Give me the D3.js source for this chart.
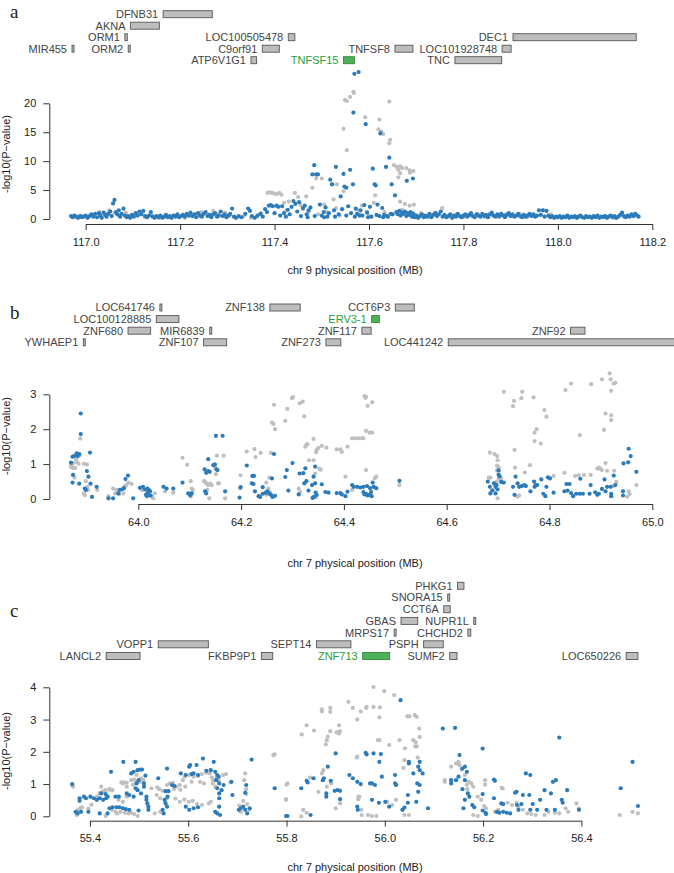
<!DOCTYPE html>
<html><head><meta charset="utf-8">
<script src="https://cdn.jsdelivr.net/npm/d3@7"></script>
<style>
body{margin:0;background:#fff}
svg{display:block}
text{font-family:"Liberation Sans",Arial,Helvetica,sans-serif}
</style>
</head><body>
<svg id="chart" width="674" height="873"></svg>
<script>
// ---------------- DATA ----------------
const aXTicks = [117.0,117.2,117.4,117.6,117.8,118.0,118.2];
const aYTicks = [0,5,10,15,20];
const bXTicks = [64.0,64.2,64.4,64.6,64.8,65.0];
const bYTicks = [0,1,2,3];
const cXTicks = [55.4,55.6,55.8,56.0,56.2,56.4];
const cYTicks = [0,1,2,3,4];

// genes: [name, startMB, endMB, track, highlighted]
const aGenes = [
 ["MIR455",116.971,116.972,1],["ORM2",117.090,117.094,1],["ORM1",117.083,117.088,2],
 ["AKNA",117.095,117.156,3],["DFNB31",117.164,117.268,4],["ATP6V1G1",117.350,117.362,0],
 ["C9orf91",117.374,117.410,1],["LOC100505478",117.429,117.443,2],["TNFSF15",117.546,117.569,0,true],
 ["TNFSF8",117.655,117.693,1],["TNC",117.782,117.881,0],["LOC101928748",117.882,117.901,1],
 ["DEC1",117.905,118.166,2]
];
const bGenes = [
 ["YWHAEP1",63.893,63.895,0],["ZNF107",64.127,64.172,0],["ZNF273",64.365,64.394,0],["LOC441242",64.603,65.10,0],
 ["ZNF680",63.980,64.024,1],["MIR6839",64.139,64.141,1],["ZNF117",64.435,64.453,1],["ZNF92",64.841,64.869,1],
 ["LOC100128885",64.035,64.079,2],["ERV3-1",64.454,64.469,2,true],
 ["LOC641746",64.042,64.044,3],["ZNF138",64.256,64.315,3],["CCT6P3",64.500,64.537,3]
];
const cGenes = [
 ["LANCL2",55.433,55.502,0],["FKBP9P1",55.749,55.772,0],["ZNF713",55.955,56.010,0,true],["SUMF2",56.132,56.147,0],["LOC650226",56.491,56.515,0],
 ["VOPP1",55.539,55.641,1],["SEPT14",55.861,55.931,1],["PSPH",56.079,56.119,1],
 ["MRPS17",56.019,56.023,2],["CHCHD2",56.169,56.175,2],
 ["GBAS",56.033,56.067,3],["NUPR1L",56.181,56.183,3],
 ["CCT6A",56.120,56.133,4],["SNORA15",56.128,56.130,5],["PHKG1",56.148,56.161,6]
];

// points: [positionMB, -log10(P)]
const aGray = [
 [116.975,0.3],[116.99,0.6],[117.005,0.4],[117.018,0.7],[117.03,1.2],[117.045,0.8],[117.05,1.5],[117.062,1.0],[117.07,0.6],[117.085,1.1],
 [117.1,0.5],[117.112,0.9],[117.125,0.3],[117.14,0.6],[117.155,0.2],[117.168,0.4],[117.18,0.3],[117.195,0.5],[117.21,0.2],[117.22,0.6],
 [117.235,0.9],[117.245,1.2],[117.26,0.7],[117.27,1.4],[117.282,0.9],[117.295,1.1],[117.305,0.6],[117.32,0.3],[117.335,0.5],[117.35,0.2],
 [117.362,0.4],[117.372,1.0],[117.385,4.5],[117.39,4.6],[117.395,4.5],[117.4,4.4],[117.405,4.3],[117.41,4.5],[117.415,4.2],[117.42,2.8],
 [117.425,1.5],[117.43,3.0],[117.443,4.5],[117.45,3.8],[117.455,2.4],[117.46,1.7],[117.467,3.9],[117.472,1.2],[117.48,5.4],[117.488,7.0],
 [117.492,0.8],[117.5,7.0],[117.505,2.5],[117.51,1.2],[117.521,6.0],[117.525,3.4],[117.53,1.9],[117.532,6.0],[117.538,0.6],[117.546,4.8],
 [117.546,15.6],[117.549,20.6],[117.553,20.4],[117.553,11.9],[117.56,21.1],[117.567,22.0],[117.568,21.8],[117.575,1.6],[117.58,0.7],[117.585,2.3],
 [117.592,17.6],[117.595,1.3],[117.6,0.5],[117.61,2.8],[117.613,4.1],[117.62,15.5],[117.622,17.2],[117.626,15.1],[117.63,14.7],[117.633,1.2],
 [117.643,13.1],[117.645,13.7],[117.643,20.3],[117.653,9.3],[117.659,9.0],[117.662,8.5],[117.662,7.2],[117.666,9.1],[117.666,7.9],[117.67,8.8],
 [117.679,8.8],[117.686,8.4],[117.687,8.0],[117.694,8.3],[117.666,3.0],[117.676,2.6],[117.686,2.3],[117.695,2.5],[117.67,1.6],[117.69,1.0],
 [117.7,0.6],[117.71,1.0],[117.72,0.4],[117.73,0.7],[117.742,1.1],[117.755,1.9],[117.77,0.5],[117.785,0.8],[117.8,0.3],[117.815,0.6],
 [117.83,0.9],[117.845,0.4],[117.86,0.7],[117.875,0.3],[117.89,0.8],[117.905,0.5],[117.92,0.9],[117.935,0.3],[117.95,0.7],[117.97,1.5],
 [117.985,0.8],[118.0,0.3],[118.02,0.5],[118.04,0.2],[118.06,0.4],[118.08,0.3],[118.1,0.5],[118.12,0.2],[118.14,0.4],[118.16,0.6]
];
const aBlue = [
 [116.969,0.5],[116.972,0.3],[116.976,0.6],[116.980,0.4],[116.984,0.2],[116.988,0.5],[116.992,0.3],[116.996,0.4],[117.000,0.6],[117.004,0.2],
 [117.008,0.5],[117.012,0.8],[117.016,0.4],[117.020,0.9],[117.024,0.3],[117.028,1.0],[117.031,0.6],[117.034,0.2],[117.038,1.1],[117.041,0.7],
 [117.044,0.4],[117.048,0.9],[117.052,1.3],[117.055,0.5],[117.058,2.7],[117.061,3.3],[117.064,1.2],[117.067,0.8],[117.070,1.5],[117.073,0.4],
 [117.076,0.9],[117.080,1.8],[117.083,0.6],[117.087,0.3],[117.090,0.5],[117.094,0.2],[117.098,0.7],[117.102,0.4],[117.106,1.0],[117.110,0.6],
 [117.114,1.3],[117.118,0.8],[117.122,1.4],[117.126,0.5],[117.130,0.3],[117.134,0.6],[117.138,1.2],[117.142,0.4],[117.146,0.2],[117.150,0.5],
 [117.154,0.3],[117.158,0.6],[117.162,0.2],[117.166,0.4],[117.170,0.7],[117.174,0.3],[117.178,0.5],[117.182,0.2],[117.186,0.6],[117.190,0.4],
 [117.194,0.8],[117.198,0.3],[117.202,0.5],[117.206,0.7],[117.210,0.4],[117.214,0.9],[117.218,0.6],[117.222,1.1],[117.226,0.5],[117.230,0.8],
 [117.234,0.3],[117.238,1.0],[117.242,0.6],[117.246,0.4],[117.250,0.9],[117.254,1.2],[117.258,0.5],[117.262,0.7],[117.266,0.3],[117.270,0.8],
 [117.274,1.0],[117.278,0.4],[117.282,0.6],[117.286,1.3],[117.290,0.5],[117.294,0.8],[117.298,0.3],[117.302,0.6],[117.306,0.9],[117.310,1.8],
 [117.314,0.4],[117.318,0.2],[117.324,0.5],[117.330,0.3],[117.338,0.9],[117.344,1.8],[117.348,1.4],[117.352,0.5],[117.358,0.2],[117.364,0.6],
 [117.370,0.9],[117.375,0.4],[117.380,1.7],[117.384,1.2],[117.388,2.3],[117.392,2.4],[117.396,2.2],[117.400,1.0],[117.404,2.3],[117.408,2.1],
 [117.412,0.6],[117.416,2.2],[117.420,1.0],[117.424,0.4],[117.428,1.6],[117.432,0.8],[117.436,2.1],[117.440,3.1],[117.444,2.6],[117.448,1.3],
 [117.452,2.9],[117.456,0.5],[117.460,1.9],[117.464,2.3],[117.468,0.8],[117.472,1.5],[117.476,2.0],[117.480,7.7],[117.484,9.3],[117.488,7.7],
 [117.492,7.7],[117.496,2.5],[117.500,0.6],[117.504,1.2],[117.508,2.0],[117.512,0.4],[117.518,6.8],[117.522,6.0],[117.526,1.5],[117.530,9.0],
 [117.536,0.8],[117.540,3.9],[117.546,7.8],[117.548,5.6],[117.552,5.4],[117.556,2.2],[117.560,8.5],[117.562,1.0],[117.566,6.0],[117.567,18.4],
 [117.569,25.1],[117.572,1.8],[117.575,0.9],[117.578,25.4],[117.582,1.5],[117.586,0.6],[117.590,2.4],[117.593,16.4],[117.598,0.3],[117.602,2.1],
 [117.608,8.7],[117.612,6.0],[117.614,5.8],[117.618,2.5],[117.622,0.5],[117.624,14.8],[117.628,1.9],[117.632,0.7],[117.636,9.0],[117.640,0.4],
 [117.643,10.6],[117.646,0.9],[117.648,6.0],[117.655,4.1],[117.680,6.6],[117.693,7.0],
 [117.470,0.3],[117.485,0.5],[117.505,0.3],[117.515,1.0],[117.528,0.4],[117.543,1.7],[117.552,0.6],[117.570,0.4],[117.580,0.6],[117.596,1.1],
 [117.605,0.4],[117.616,0.7],[117.630,0.3],[117.638,0.5],[117.650,0.8],
 [117.658,1.2],[117.661,0.8],[117.664,1.4],[117.667,0.6],[117.670,1.1],[117.673,0.9],[117.676,1.3],[117.679,0.5],[117.682,1.0],[117.685,0.7],
 [117.688,1.2],[117.691,0.4],[117.694,0.9],[117.697,0.3],[117.700,0.6],[117.704,0.2],[117.708,0.5],[117.712,0.8],[117.716,0.3],[117.720,0.6],
 [117.724,0.4],[117.728,0.9],[117.732,0.3],[117.736,0.7],[117.740,1.0],[117.744,0.5],[117.748,0.8],[117.752,1.3],[117.756,0.4],[117.760,0.7],
 [117.764,0.3],[117.768,0.5],[117.772,0.8],[117.776,0.2],[117.780,0.6],[117.784,0.4],[117.788,0.9],[117.792,0.5],[117.796,0.3],[117.800,0.6],
 [117.804,0.8],[117.808,0.4],[117.812,0.7],[117.816,1.0],[117.820,0.5],[117.824,0.3],[117.828,0.8],[117.832,0.6],[117.836,0.4],[117.840,0.9],
 [117.844,0.5],[117.848,0.7],[117.852,0.3],[117.856,0.8],[117.860,1.1],[117.864,0.6],[117.868,0.4],[117.872,0.8],[117.876,0.5],[117.880,0.9],
 [117.884,0.6],[117.888,0.3],[117.892,0.7],[117.896,1.0],[117.900,0.5],[117.904,0.8],[117.908,0.4],[117.912,0.6],[117.916,0.9],[117.920,0.5],
 [117.924,0.3],[117.928,0.7],[117.932,0.4],[117.936,0.6],[117.940,0.9],[117.944,0.5],[117.948,0.8],[117.952,0.4],[117.956,0.6],[117.960,1.5],
 [117.964,0.7],[117.968,1.5],[117.972,0.4],[117.976,1.4],[117.980,0.6],[117.984,0.3],[117.988,0.5],[117.992,0.2],[117.996,0.4],[118.000,0.3],
 [118.004,0.5],[118.008,0.2],[118.012,0.4],[118.016,0.3],[118.020,0.6],[118.024,0.2],[118.028,0.4],[118.032,0.3],[118.036,0.5],[118.040,0.2],
 [118.044,0.4],[118.048,0.6],[118.052,0.3],[118.056,0.2],[118.060,0.5],[118.064,0.3],[118.068,0.4],[118.072,0.2],[118.076,0.5],[118.080,0.3],
 [118.084,0.6],[118.088,0.2],[118.092,0.4],[118.096,0.3],[118.100,0.5],[118.104,0.2],[118.108,0.4],[118.112,0.6],[118.116,0.3],[118.120,0.5],
 [118.124,0.2],[118.128,0.4],[118.132,0.7],[118.136,1.1],[118.140,0.5],[118.144,0.3],[118.148,0.6],[118.152,0.4],[118.156,0.8],[118.160,0.5],
 [118.164,0.9],[118.168,0.6],[118.171,0.4]
];

const bGray = [
 [63.870,0.98],[63.869,0.92],[63.873,0.89],[63.874,1.03],[63.879,1.13],[63.881,1.05],[63.884,1.01],[63.877,0.89],[63.876,0.61],[63.887,1.73],[63.886,1.24],
 [63.894,1.01],[63.900,0.99],[63.898,0.51],[63.901,0.35],[63.902,0.26],[63.894,0.16],[63.896,0.11],[63.920,0.26],[63.942,0.08],
 [63.951,0.30],[63.955,0.16],[63.958,0.26],[63.963,0.14],[63.971,0.16],[63.974,0.37],[63.977,0.40],[63.981,0.47],[63.987,0.43],
 [64.007,0.26],[64.010,0.26],[64.017,0.22],[64.026,0.07],[64.029,0.02],[64.032,0.16],[64.052,0.22],[64.068,0.18],
 [64.086,1.18],[64.095,0.98],[64.102,0.51],[64.104,0.30],[64.106,0.26],[64.102,0.07],
 [64.128,0.51],[64.130,0.49],[64.133,0.44],[64.136,0.40],[64.140,0.44],[64.143,0.40],[64.134,0.26],[64.138,0.02],[64.149,0.92],[64.153,1.24],[64.166,1.24],[64.151,0.71],[64.155,0.45],[64.157,0.45],[64.169,0.02],
 [64.198,0.30],[64.199,0.68],[64.211,1.36],[64.226,1.43],[64.228,1.20],[64.238,1.32],[64.249,0.47],[64.255,0.61],[64.258,1.32],[64.253,0.30],[64.256,0.20],[64.249,0.12],
 [64.260,2.19],[64.263,2.15],[64.266,2.00],[64.264,2.70],[64.286,2.24],[64.290,2.58],[64.299,2.89],[64.301,2.92],[64.314,2.74],[64.320,2.79],[64.323,2.37],[64.312,0.30],[64.315,0.20],
 [64.327,1.55],[64.329,1.57],[64.325,1.50],[64.341,1.72],[64.347,1.41],[64.346,1.34],[64.350,1.46],[64.357,1.52],[64.366,1.47],[64.386,1.42],[64.393,1.42],
 [64.332,1.11],[64.341,1.11],[64.344,0.73],[64.352,0.87],[64.355,0.84],[64.340,0.05],[64.346,0.05],
 [64.396,1.35],[64.407,1.50],[64.416,1.74],[64.422,1.74],[64.429,1.74],[64.435,1.74],[64.438,1.74],[64.443,1.95],[64.450,1.90],[64.455,1.90],
 [64.440,2.95],[64.442,2.90],[64.443,2.93],[64.446,2.67],[64.455,2.77],[64.403,0.64],[64.443,0.83],[64.463,0.64],[64.460,0.59],[64.416,0.26],[64.508,0.40],
 [64.684,1.33],[64.693,1.29],[64.698,1.23],[64.699,1.11],[64.698,0.96],[64.701,0.91],[64.698,0.82],[64.682,0.61],[64.685,0.61],[64.701,0.59],[64.704,0.56],[64.697,0.49],[64.692,0.44],[64.699,0.02],[64.706,0.59],
 [64.711,3.07],[64.729,2.66],[64.731,2.81],[64.745,2.89],[64.747,3.07],[64.769,2.91],[64.732,1.41],[64.733,0.90],[64.752,0.76],[64.762,0.97],[64.738,0.07],[64.741,0.10],
 [64.771,1.66],[64.771,1.90],[64.775,2.00],[64.790,2.55],[64.794,2.36],[64.783,1.59],[64.808,0.66],
 [64.829,0.75],[64.831,3.12],[64.842,3.31],[64.850,0.66],[64.857,0.68],[64.867,0.69],[64.859,1.83],[64.881,3.29],[64.880,0.69],[64.893,0.87],[64.896,0.90],[64.899,0.87],[64.902,0.83],[64.909,1.03],[64.912,0.81],
 [64.902,3.43],[64.917,3.60],[64.919,3.43],[64.925,3.31],[64.928,3.33],[64.920,3.10],[64.909,2.45],[64.920,2.40],[64.920,2.26],[64.906,1.98],[64.926,0.81],[64.924,0.37],[64.930,0.49],
 [64.954,0.22],[64.956,0.14],[64.951,0.07],[64.969,0.40]
];
const bBlue = [
 [63.869,1.04],[63.872,1.21],[63.875,1.23],[63.873,0.69],[63.872,0.47],[63.888,2.45],[63.888,1.86],[63.880,1.31],[63.885,1.29],[63.882,1.23],
 [63.885,0.44],[63.896,0.30],[63.898,0.26],[63.900,0.80],[63.903,0.64],[63.906,1.33],[63.907,0.44],[63.910,0.06],[63.919,0.35],[63.942,0.02],
 [63.951,0.02],[63.961,0.16],[63.964,0.26],[63.969,0.28],[63.972,0.31],[63.975,0.57],[63.980,0.67],[63.990,0.02],[64.003,0.32],[64.009,0.35],
 [64.013,0.28],[64.015,0.12],[64.017,0.08],[64.019,0.18],[64.021,0.25],[64.024,0.10],[64.018,0.30],[64.023,0.22],[64.049,0.35],[64.055,0.30],
 [64.068,0.30],[64.086,0.47],[64.097,0.16],[64.101,0.11],[64.104,0.16],[64.129,0.85],[64.132,0.75],[64.136,0.80],[64.139,0.78],[64.136,1.14],
 [64.130,0.22],[64.132,0.16],[64.146,0.97],[64.149,0.99],[64.152,0.85],[64.154,0.83],[64.151,1.81],[64.164,1.81],[64.169,0.22],[64.197,0.04],
 [64.199,0.34],[64.211,0.96],[64.222,0.66],[64.225,0.66],[64.221,0.45],[64.224,0.43],[64.227,0.22],[64.234,0.08],[64.237,0.06],[64.242,0.15],
 [64.248,0.18],[64.251,0.22],[64.255,0.15],[64.258,0.12],[64.261,0.06],[64.266,0.09],[64.242,0.34],[64.260,0.59],[64.264,1.29],[64.286,0.63],
 [64.289,0.83],[64.300,1.03],[64.292,0.24],[64.312,0.13],[64.314,0.73],[64.321,0.74],[64.325,0.88],[64.327,0.51],[64.331,0.24],[64.323,0.45],
 [64.338,0.40],[64.344,0.45],[64.341,0.64],[64.344,0.93],[64.339,0.03],[64.342,0.06],[64.345,0.18],[64.347,0.12],[64.357,0.42],[64.364,0.20],
 [64.370,0.18],[64.386,0.17],[64.393,0.17],[64.396,0.13],[64.403,0.08],[64.407,0.21],[64.416,0.40],[64.419,0.35],[64.426,0.35],[64.432,0.33],
 [64.438,0.35],[64.445,0.37],[64.451,0.31],[64.458,0.35],[64.463,0.31],[64.438,0.20],[64.443,0.15],[64.446,0.10],[64.449,0.12],[64.453,0.20],
 [64.454,0.08],[64.440,0.13],[64.456,0.47],[64.508,0.52],
 [64.680,0.50],[64.684,0.35],[64.685,0.16],[64.689,0.25],[64.692,0.45],[64.695,0.35],[64.697,0.40],[64.699,0.28],[64.701,0.70],[64.703,0.65],
 [64.701,0.82],[64.706,0.49],[64.711,0.47],[64.695,0.16],[64.729,0.35],[64.734,0.64],[64.732,0.12],[64.738,0.45],[64.741,0.35],[64.746,0.37],
 [64.751,0.40],[64.754,0.37],[64.763,0.22],[64.770,0.50],[64.773,0.40],[64.771,0.35],[64.776,0.40],[64.784,0.56],[64.788,0.15],[64.792,0.08],
 [64.794,0.35],[64.797,0.62],[64.801,0.59],[64.808,0.18],[64.829,0.22],[64.833,0.43],[64.835,0.24],[64.839,0.43],[64.842,0.17],[64.846,0.08],
 [64.852,0.15],[64.859,0.15],[64.860,0.58],[64.865,0.15],[64.878,0.15],[64.880,0.40],[64.889,0.19],[64.893,0.12],[64.896,0.15],[64.902,0.29],
 [64.907,0.56],[64.909,0.22],[64.912,0.35],[64.919,0.35],[64.920,0.15],[64.920,0.08],[64.925,0.67],[64.928,0.40],[64.943,0.22],[64.943,0.10],
 [64.944,1.02],[64.953,1.05],[64.954,1.44],[64.958,1.23],[64.969,0.78]
];

const cGray = [
 [55.366,0.92],[55.364,0.95],[55.373,0.04],[55.379,0.20],[55.384,0.28],[55.423,0.92],[55.432,0.81],[55.440,0.85],[55.432,0.01],[55.445,0.20],
 [55.452,0.14],[55.455,0.09],[55.462,0.14],[55.471,0.11],[55.478,0.09],[55.484,0.11],[55.490,0.07],[55.497,0.01],[55.467,1.02],[55.475,1.04],
 [55.484,1.12],[55.490,1.14],[55.495,1.28],[55.504,1.18],[55.508,1.10],[55.446,0.81],[55.458,0.51],[55.467,0.45],[55.475,0.61],
 [55.376,0.21],[55.381,0.26],[55.397,0.24],[55.403,0.36],[55.415,0.62],[55.420,0.72],[55.427,0.77],[55.440,0.82],[55.464,1.05],[55.469,1.05],
 [55.475,0.92],[55.488,0.98],[55.495,1.05],[55.502,1.07],[55.509,1.12],
 [55.525,0.87],[55.537,0.90],[55.541,0.84],[55.548,0.79],[55.557,0.97],[55.563,1.02],[55.569,1.04],[55.576,0.92],[55.583,0.97],[55.589,1.12],
 [55.593,1.23],[55.602,1.28],[55.611,1.23],[55.620,1.25],[55.628,1.31],[55.637,1.35],[55.644,1.33],[55.650,1.02],[55.655,0.92],[55.662,1.12],
 [55.671,1.28],[55.677,1.31],[55.532,0.09],[55.543,0.14],[55.574,0.55],[55.583,0.45],[55.592,0.52],[55.601,0.45],[55.609,0.48],[55.618,0.38],
 [55.628,0.35],[55.642,0.40],[55.646,0.45],[55.536,0.66],[55.543,0.56],[55.553,0.46],[55.557,0.56],[55.571,0.85],[55.584,0.82],[55.594,0.92],
 [55.607,1.07],[55.624,1.07],[55.632,1.02],[55.648,1.20],[55.651,1.12],[55.658,1.20],[55.686,1.05],
 [55.716,1.33],[55.714,1.12],[55.718,0.69],[55.712,0.48],[55.720,0.38],[55.725,0.20],[55.707,0.14],[55.704,0.33],[55.718,0.84],
 [55.773,1.90],[55.776,1.92],[55.799,0.51],[55.799,0.53],[55.802,1.02],[55.800,0.98],[55.830,0.00],[55.834,0.20],[55.841,0.11],[55.848,1.20],
 [55.865,0.76],[55.872,1.33],[55.874,1.12],[55.875,1.43],[55.882,0.92],[55.891,1.02],[55.900,0.25],[55.909,0.40],
 [55.831,2.54],[55.841,2.82],[55.856,2.66],[55.872,3.32],[55.872,3.25],[55.882,2.36],[55.880,2.23],[55.884,2.47],[55.889,3.36],[55.889,3.24],
 [55.889,2.64],[55.903,2.60],[55.907,2.57],[55.902,2.60],[55.909,2.64],[55.907,2.82],[55.926,3.55],[55.935,3.36],[55.944,3.00],[55.943,1.82],
 [55.944,1.85],[55.946,0.60],[55.946,0.53],[55.948,0.61],[55.952,0.20],[55.953,0.04],[55.966,0.04],[55.974,0.01],[55.983,0.01],
 [55.951,3.25],[55.963,3.39],[55.962,3.36],[55.977,3.39],[55.977,4.01],[55.990,3.38],[55.989,3.07],[55.999,3.88],[56.019,3.76],
 [55.986,2.36],[55.989,2.36],[56.009,2.21],[56.030,2.36],[56.005,0.45],[56.015,0.35],[56.023,0.51],[56.036,0.20],[56.040,0.04],[56.049,0.04],
 [56.038,1.50],[56.040,1.74],[56.041,2.11],[56.046,3.10],[56.050,3.10],[56.061,3.14],[56.065,3.08],[56.070,2.72],[56.058,2.36],[56.062,2.17],
 [56.071,2.46],[56.063,2.30],[56.065,2.17],[56.067,1.82],
 [56.122,1.12],[56.122,1.07],[56.135,1.54],[56.145,1.64],[56.150,1.69],[56.150,1.63],[56.152,1.58],[56.156,1.45],[56.163,1.28],[56.167,0.98],
 [56.171,1.07],[56.168,0.84],[56.176,1.02],[56.180,0.92],[56.189,0.61],[56.196,0.51],[56.202,0.32],[56.206,0.25],[56.180,0.04],[56.189,0.01],
 [56.204,1.12],[56.204,0.98],[56.238,0.88],
 [56.224,0.14],[56.231,0.20],[56.240,0.86],[56.250,0.42],[56.259,0.35],[56.268,0.42],[56.272,0.30],[56.281,0.20],[56.290,0.09],[56.298,0.07],
 [56.307,0.04],[56.325,0.04],[56.333,0.14],[56.346,0.11],[56.355,0.09],[56.368,0.25],[56.373,0.14],[56.390,0.40],[56.395,0.25],[56.478,0.04],
 [56.504,0.14],[56.515,0.09]
];
const cBlue = [
 [55.364,1.00],[55.371,0.14],[55.375,0.09],[55.382,0.14],[55.379,0.56],[55.379,0.48],[55.388,0.61],[55.392,0.56],[55.401,0.61],[55.408,0.56],
 [55.414,0.51],[55.420,0.56],[55.427,0.51],[55.433,0.56],[55.436,0.61],[55.423,0.71],[55.432,0.69],[55.397,0.14],[55.420,0.09],[55.436,0.09],
 [55.443,1.38],[55.440,0.25],[55.446,0.28],[55.454,0.28],[55.460,0.28],[55.467,0.25],[55.473,0.22],[55.480,0.20],[55.452,0.61],[55.459,0.61],
 [55.468,1.69],[55.493,1.69],[55.484,1.33],[55.489,1.38],[55.497,1.43],[55.502,1.45],[55.506,1.45],[55.495,1.02],[55.499,1.12],[55.510,1.02],
 [55.493,0.87],[55.497,0.81],[55.504,0.71],[55.510,0.92],[55.515,0.61],[55.515,0.51],[55.517,0.40],[55.519,0.30],[55.519,0.20],[55.513,1.26],
 [55.475,0.71],[55.480,0.66],[55.489,0.61],[55.499,0.18],
 [55.539,1.18],[55.552,0.51],[55.554,0.40],[55.558,0.61],[55.557,0.30],[55.548,0.20],[55.550,0.09],[55.554,0.78],[55.560,0.78],[55.557,1.48],
 [55.567,0.97],[55.572,0.94],[55.585,1.33],[55.595,1.28],[55.602,1.54],[55.604,1.59],[55.607,1.31],[55.611,1.33],[55.620,1.28],[55.595,0.30],
 [55.602,0.20],[55.611,0.25],[55.620,0.28],[55.617,1.59],[55.630,1.79],[55.637,1.41],[55.646,1.43],[55.652,1.69],[55.655,1.38],[55.659,1.28],
 [55.657,1.12],[55.662,1.23],[55.663,1.02],[55.659,0.87],[55.663,0.71],[55.663,0.56],[55.663,0.30],[55.659,0.09],[55.665,0.04],[55.655,0.14],
 [55.668,0.81],[55.672,0.97],[55.688,1.07],[55.690,0.66],[55.703,0.20],[55.707,0.25],[55.712,0.30],[55.716,0.20],[55.720,0.09],[55.725,0.25],
 [55.716,0.73],[55.718,0.97],[55.729,1.76],
 [55.799,0.01],[55.802,0.01],[55.776,0.87],[55.830,0.87],[55.841,1.10],[55.843,1.05],[55.849,0.04],[55.855,1.18],[55.874,1.12],[55.876,1.18],
 [55.881,0.71],[55.881,0.61],[55.884,1.54],[55.890,1.10],[55.898,0.79],[55.904,0.81],[55.909,0.79],[55.900,1.95],[55.909,0.53],[55.928,1.28],
 [55.935,1.18],[55.944,1.07],[55.951,1.00],[55.944,0.30],[55.945,0.20],[55.961,1.97],[55.963,1.92],[55.970,1.02],[55.974,1.02],[55.980,0.97],
 [55.977,1.95],[55.974,0.51],[55.988,0.42],[56.001,0.45],[55.989,1.69],[55.992,1.93],[55.994,1.23],[56.009,0.30],[56.021,1.02],[56.023,0.97],
 [56.021,1.28],[56.036,0.20],[56.040,0.27],[56.047,0.42],[56.049,1.64],[56.049,1.69],[56.047,0.66],[56.058,1.33],[56.064,0.45],[56.066,1.02],
 [56.068,0.76],[56.071,0.97],[56.071,1.69],[56.068,1.54],[56.071,1.43],[56.077,1.33],[56.088,0.25],
 [56.032,3.60],[56.118,2.72],[56.143,2.74],
 [56.135,1.12],[56.135,1.02],[56.145,1.12],[56.150,1.23],[56.152,1.90],[56.158,1.48],[56.163,1.54],[56.167,1.38],[56.163,1.12],[56.163,0.51],
 [56.158,0.84],[56.169,0.71],[56.172,0.61],[56.160,0.25],[56.178,0.35],[56.182,0.28],
 [56.199,2.10],[56.199,0.69],[56.199,0.18],[56.205,0.11],[56.206,0.07],[56.222,1.14],[56.224,1.10],[56.222,0.56],[56.228,0.14],[56.233,0.11],
 [56.241,0.14],[56.248,0.11],[56.255,0.09],[56.237,0.40],[56.241,0.38],[56.265,0.73],[56.268,0.76],[56.269,0.35],[56.272,0.20],[56.278,0.38],
 [56.281,0.66],[56.287,1.33],[56.296,1.28],[56.294,0.66],[56.301,0.38],[56.296,0.20],[56.310,0.20],[56.316,0.51],[56.325,0.81],[56.338,0.71],
 [56.342,1.07],[56.348,1.12],[56.355,2.44],[56.360,0.51],[56.362,0.42],[56.346,0.20],[56.329,0.20],[56.371,0.81],[56.395,0.20],[56.480,0.87],
 [56.504,1.69],[56.515,0.32]
];

// ---------------- LAYOUT ----------------
const BLUE = "#2b7bba", GRAY = "#bfbfbf";
const svg = d3.select("#chart");

const panels = [
 {letter:"a", letterY:18, xDomain:[117.0,118.2], xRange:[85.7,652.3], yDomain:[0,20], yRange:[219,103.3], xAxisY:224,
  xTicks:aXTicks, yTicks:aYTicks, gray:aGray, blue:aBlue, genes:aGenes, geneBase:60.2, geneStep:11.5,
  xTitle:"chr 9 physical position (MB)", xTitleY:274, yTitleY:154},
 {letter:"b", letterY:319, xDomain:[64.0,65.0], xRange:[138.3,652.3], yDomain:[0,3], yRange:[499,394.3], xAxisY:504,
  xTicks:bXTicks, yTicks:bYTicks, gray:bGray, blue:bBlue, genes:bGenes, geneBase:342.3, geneStep:11.6,
  xTitle:"chr 7 physical position (MB)", xTitleY:567, yTitleY:436},
 {letter:"c", letterY:617, xDomain:[55.4,56.4], xRange:[89.9,581.4], yDomain:[0,4], yRange:[816.3,687.3], xAxisY:820.7,
  xTicks:cXTicks, yTicks:cYTicks, gray:cGray, blue:cBlue, genes:cGenes, geneBase:656, geneStep:11.7,
  xTitle:"chr 7 physical position (MB)", xTitleY:870.5, yTitleY:751}
];
const Y_AXIS_X = 49.3;

panels.forEach(p => {
  const x = d3.scaleLinear().domain(p.xDomain).range(p.xRange);
  const y = d3.scaleLinear().domain(p.yDomain).range(p.yRange);
  const g = svg.append("g");

  // panel letter
  g.append("text").attr("x", 10).attr("y", p.letterY).text(p.letter)
    .style("font-family", "'Liberation Serif','DejaVu Serif',serif").style("font-size", "19px").attr("fill", "#222");

  // gene track
  const gg = g.append("g");
  p.genes.forEach(d => {
    const [name, s, e, row, hl] = d;
    const cy = p.geneBase - row * p.geneStep;
    const x0 = x(s), w = Math.max(2, x(e) - x(s));
    gg.append("rect").attr("x", x0).attr("y", cy - 3.5).attr("width", w).attr("height", 7)
      .attr("fill", hl ? "#4db05a" : "#bdbdbd").attr("stroke", hl ? "#2e8b3a" : "#555").attr("stroke-width", 0.9);
    gg.append("text").attr("x", x0 - 5).attr("y", cy).attr("dy", "0.36em").attr("text-anchor", "end")
      .style("font-size", "11px").attr("fill", hl ? "#2aa034" : "#444").text(name);
  });

  // points
  g.append("g").selectAll("circle").data(p.gray).join("circle")
    .attr("cx", d => x(d[0])).attr("cy", d => y(d[1])).attr("r", 2.1).attr("fill", GRAY);
  g.append("g").selectAll("circle").data(p.blue).join("circle")
    .attr("cx", d => x(d[0])).attr("cy", d => y(d[1])).attr("r", 2.1).attr("fill", BLUE);

  // axes
  const xa = g.append("g").attr("transform", `translate(0,${p.xAxisY})`)
    .call(d3.axisBottom(x).tickValues(p.xTicks).tickFormat(d3.format(".1f")).tickSize(6).tickSizeOuter(0).tickPadding(8));
  const ya = g.append("g").attr("transform", `translate(${Y_AXIS_X},0)`)
    .call(d3.axisLeft(y).tickValues(p.yTicks).tickFormat(d3.format("d")).tickSize(6).tickSizeOuter(0).tickPadding(7));
  [xa, ya].forEach(a => {
    a.selectAll("path,line").attr("stroke", "#333").attr("stroke-width", 1);
    a.selectAll("text").style("font-size", "11px").style("font-family", "'Liberation Sans',Arial,sans-serif").attr("fill", "#222");
  });

  // titles
  g.append("text").attr("x", 355).attr("y", p.xTitleY).attr("text-anchor", "middle")
    .style("font-size", "11px").attr("fill", "#222").text(p.xTitle);
  g.append("text").attr("transform", `translate(10,${p.yTitleY}) rotate(-90)`).attr("text-anchor", "middle")
    .style("font-size", "11px").attr("fill", "#222").text("-log10(P\u2212value)");
});
</script>
</body></html>
